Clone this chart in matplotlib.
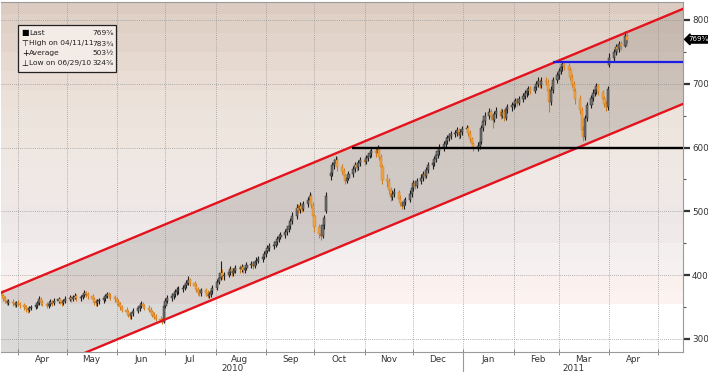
import numpy as np
import pandas as pd
import matplotlib
matplotlib.use("Agg")
import matplotlib.pyplot as plt
import matplotlib.dates as mdates
from matplotlib.patches import Rectangle
from matplotlib.transforms import blended_transform_factory

FONT = ["Liberation Sans Narrow", "DejaVu Sans"]
plt.rcParams["font.family"] = FONT

### daily bars, one row per week (Mon..Fri), 2010-03-22 .. 2011-04-12
closes = [
    368, 364, 360, 357, 358,  356, 354, 357, 355, 353,  350, 347, 345, 348, 350,
    353, 356, 362, 358, 355,  352, 355, 358, 356, 360,  362, 358, 356, 360, 363,
    365, 362, 366, 368, 364,  366, 369, 372, 370, 367,  362, 358, 356, 359, 361,
    364, 367, 370, 368, 366,  362, 358, 355, 350, 346,  342, 338, 336, 340, 344,
    348, 352, 355, 352, 349,  346, 342, 338, 335, 332,  329, 326, 352, 360, 364,
    368, 371, 374, 376, 378,  380, 384, 388, 392, 387,  383, 378, 374, 372, 376,
    372, 368, 370, 375, 380,  390, 396, 404, 398, 401,  405, 409, 403, 407, 411,
    409, 413, 408, 412, 416,  418, 415, 420, 423, 426,  429, 433, 438, 442, 446,
    448, 452, 456, 460, 463,  467, 472, 477, 485, 493,  506, 502, 509, 504, 512,
    518, 524, 510, 492, 476,  465, 462, 478, 490, 524,  560, 572, 576, 581, 570,
    564, 555, 548, 553, 559,  566, 572, 569, 576, 580,  578, 583, 587, 591, 595,
    592, 598, 586, 570, 549,  548, 534, 522, 528, 531,  520, 513, 508, 515, 518,
    528, 537, 544, 540, 548,  553, 559, 556, 565, 572,  576, 582, 589, 594, 600,
    606, 611, 615, 618, 621,  623, 627, 619, 625, 629,  631, 623, 613, 605, 600,
    603, 609, 630, 641, 650,  656, 649, 644, 652, 658,  650, 656, 647, 660, 663,
    666, 669, 673, 670, 676,  681, 685, 688, 692, 689,  695, 700, 704, 698, 705,
    703, 688, 672, 691, 706,  713, 720, 726, 731, 728,  722, 711, 700, 689, 676,
    659, 627, 616, 646, 667,  678, 686, 690, 696, 687,  676, 669, 663, 692, 740,
    750, 757, 754, 762, 760,  775, 769,
]
highs = [
    376, 371, 368, 363, 362,  362, 359, 360, 361, 358,  356, 354, 350, 351, 354,
    357, 359, 367, 366, 361,  358, 359, 362, 361, 364,  366, 365, 361, 363, 367,
    369, 368, 369, 372, 371,  369, 372, 376, 375, 373,  370, 366, 362, 362, 365,
    367, 371, 374, 374, 372,  369, 366, 362, 358, 354,  350, 346, 342, 343, 348,
    351, 356, 359, 358, 355,  353, 350, 346, 342, 339,  336, 333, 357, 364, 369,
    372, 375, 378, 381, 383,  384, 388, 393, 398, 396,  391, 387, 382, 378, 380,
    380, 376, 374, 379, 384,  394, 400, 422, 409, 405,  410, 414, 412, 411, 416,
    416, 417, 416, 416, 420,  423, 422, 424, 428, 430,  433, 438, 443, 447, 451,
    453, 457, 461, 465, 468,  472, 477, 482, 490, 499,  512, 511, 514, 513, 517,
    523, 530, 528, 514, 496,  481, 470, 483, 495, 530,  567, 578, 582, 587, 585,
    574, 568, 559, 558, 564,  571, 577, 577, 581, 585,  585, 588, 592, 596, 600,
    601, 604, 602, 590, 574,  558, 552, 539, 533, 537,  534, 525, 517, 519, 523,
    533, 542, 549, 548, 553,  558, 564, 563, 570, 577,  581, 587, 594, 599, 605,
    611, 616, 620, 623, 626,  628, 632, 630, 629, 634,  636, 634, 627, 617, 609,
    608, 614, 636, 647, 656,  662, 660, 653, 657, 663,  662, 661, 660, 664, 668,
    671, 674, 678, 677, 681,  686, 690, 693, 697, 696,  700, 705, 710, 708, 710,
    711, 707, 694, 696, 711,  718, 725, 731, 736, 736,  732, 727, 715, 705, 693,
    682, 663, 634, 651, 672,  683, 692, 695, 702, 700,  691, 681, 673, 696, 748,
    755, 762, 762, 767, 767,  783, 779,
]
lows = [
    364, 360, 356, 353, 353,  352, 350, 350, 351, 349,  346, 343, 340, 342, 345,
    347, 349, 353, 354, 351,  348, 349, 351, 352, 353,  357, 355, 352, 353, 357,
    359, 358, 359, 362, 360,  360, 363, 366, 366, 363,  358, 353, 351, 352, 355,
    357, 360, 364, 364, 361,  358, 354, 351, 346, 342,  338, 334, 331, 332, 336,
    340, 344, 348, 348, 345,  342, 338, 334, 331, 328,  326, 324, 325, 348, 356,
    360, 363, 366, 369, 371,  373, 376, 380, 384, 383,  379, 374, 369, 367, 368,
    368, 364, 364, 366, 371,  377, 386, 392, 394, 393,  397, 401, 399, 399, 403,
    404, 405, 403, 404, 408,  411, 410, 411, 416, 419,  421, 425, 429, 434, 438,
    441, 444, 448, 452, 456,  459, 463, 468, 473, 481,  488, 497, 498, 499, 500,
    507, 513, 505, 487, 468,  459, 455, 458, 472, 497,  549, 556, 566, 571, 564,
    559, 549, 543, 544, 549,  554, 561, 563, 565, 571,  572, 574, 579, 583, 586,
    586, 588, 581, 564, 543,  538, 528, 516, 518, 523,  515, 508, 503, 504, 510,
    514, 523, 532, 535, 536,  543, 548, 550, 552, 560,  567, 571, 577, 584, 589,
    595, 601, 606, 610, 613,  616, 618, 614, 615, 620,  624, 618, 608, 600, 595,
    595, 598, 605, 626, 636,  645, 644, 630, 640, 647,  645, 646, 642, 643, 654,
    658, 661, 664, 665, 666,  672, 676, 680, 683, 684,  685, 690, 695, 693, 694,
    698, 682, 656, 666, 686,  702, 708, 715, 720, 722,  717, 706, 695, 684, 668,
    653, 620, 610, 612, 641,  662, 673, 681, 684, 682,  670, 663, 658, 659, 726,
    736, 745, 748, 750, 753,  757, 764,
]
first_open = 372
gap_opens = {"2010-10-08": 500, "2010-10-11": 555, "2011-04-01": 730}

# trend channel and levels drawn on the chart
channel_dates = ["2010-03-21", "2011-05-17"]
upper_prices = [372, 818]
lower_prices = [223, 669]
support_start, support_level = "2010-10-24", 600
resist_start, resist_level = "2011-02-25", 734

legend_marks = ["\u25A0", "\u22A4", "+", "\u22A5"]
legend_labels = ["Last", "High on 04/11/11", "Average", "Low on 06/29/10"]
legend_values = ["769\u215D", "783\u00BE", "503\u00BD", "324\u215D"]
last_label = "769\u215D"
last_price = 769.6

dates = pd.bdate_range("2010-03-22", "2011-04-12")
assert len(dates) == len(closes) == len(highs) == len(lows)
opens = [first_open] + closes[:-1]
for d, v in gap_opens.items():
    opens[dates.get_loc(pd.Timestamp(d))] = v

### figure
W, H = 708, 372
fig = plt.figure(figsize=(W / 100, H / 100), dpi=100)
fig.patch.set_facecolor("white")
ax = fig.add_axes([1 / W, 20 / H, 682 / W, 350 / H])

xmin = mdates.date2num(pd.Timestamp("2010-03-21 12:00"))
xmax = mdates.date2num(pd.Timestamp("2011-05-16 12:00"))
ymin, ymax = 279.6, 828.2

# background price bands
band_edges = [ymax, 810, 780, 750, 720, 690, 660, 630, 600, 570, 540, 510, 480,
              450, 425, 400, 375, 355, ymin]
band_colors = ["#dbcbc1", "#e0d1c7", "#e2d4cb", "#e6d9d0", "#e9ddd5", "#ebe1d9",
               "#ece3dc", "#eee5de", "#efe7e1", "#f0e8e4", "#efe8e6", "#eee7e8",
               "#efe9ea", "#f3efef", "#f6f1f0", "#faf1ee", "#fcf3f1", "#ffffff"]
for top, bot, col in zip(band_edges[:-1], band_edges[1:], band_colors):
    ax.axhspan(bot, top, color=col, lw=0, zorder=0)

# channel
cx = mdates.date2num(pd.to_datetime(channel_dates))
ax.fill_between(cx, lower_prices, upper_prices, color="#807870", alpha=0.27,
                lw=0, zorder=1)

# candles
x = mdates.date2num(dates)
o = np.array(opens, float)
c = np.array(closes, float)
up = c >= o
wick_col = np.where(up, "#1e1e1e", "#cf7f22")
body_col = np.where(up, "#707070", "#f0a040")
ax.vlines(x, lows, highs, colors=wick_col, lw=0.8, zorder=3)
ax.bar(x, np.maximum(np.abs(c - o), 2.0), bottom=np.minimum(o, c), width=1.35,
       color=body_col, edgecolor=wick_col, lw=0.3, zorder=4)

ax.plot(cx, upper_prices, color="#e3121c", lw=1.7, zorder=5)
ax.plot(cx, lower_prices, color="#e3121c", lw=1.7, zorder=5)
ax.hlines(support_level, mdates.date2num(pd.Timestamp(support_start)), xmax,
          color="black", lw=1.7, zorder=5)
ax.hlines(resist_level, mdates.date2num(pd.Timestamp(resist_start)), xmax,
          color="#1c1ce6", lw=1.6, zorder=5)

ax.set_xlim(xmin, xmax)
ax.set_ylim(ymin, ymax)

### axes styling
ax.set_axisbelow(True)
ax.xaxis.set_major_locator(mdates.MonthLocator())
ax.xaxis.set_major_formatter(plt.NullFormatter())
mid_months = mdates.date2num(pd.date_range("2010-04-01", "2011-04-01", freq="MS")
                             + pd.Timedelta(days=15))
ax.xaxis.set_minor_locator(matplotlib.ticker.FixedLocator(mid_months))
ax.xaxis.set_minor_formatter(mdates.DateFormatter("%b"))
ax.tick_params(axis="x", which="major", direction="inout", length=4, width=0.6,
               color="#777")
ax.tick_params(axis="x", which="minor", length=0, pad=2, labelsize=6.3,
               labelcolor="#333")

ax.yaxis.tick_right()
ax.set_yticks(np.arange(300, 801, 100))
ax.set_yticks(np.arange(350, 800, 100), minor=True)
ax.tick_params(axis="y", which="major", direction="out", length=5, width=1.6,
               color="#333", labelsize=6.3, labelcolor="#333", pad=1.5)
ax.tick_params(axis="y", which="minor", direction="out", length=2.5, width=0.8,
               color="#555")
ax.grid(True, which="major", color="#9a9a9a", lw=0.6, ls=(0, (1, 1.5)))

for side in ["top", "right", "bottom"]:
    ax.spines[side].set_color("#9a9a9a")
    ax.spines[side].set_linewidth(0.8)
ax.spines["left"].set_visible(False)

# year labels and separator
tr = blended_transform_factory(ax.transData, ax.transAxes)
jan1 = mdates.date2num(pd.Timestamp("2011-01-01"))
ax.plot([jan1, jan1], [0, -0.06], color="#999", lw=0.8, transform=tr,
        clip_on=False)
ax.text((xmin + jan1) / 2, -0.048, "2010", transform=tr, ha="center",
        va="center", fontsize=6.3, color="#333")
ax.text((jan1 + xmax) / 2, -0.048, "2011", transform=tr, ha="center",
        va="center", fontsize=6.3, color="#333")

# last price tag
tr2 = blended_transform_factory(ax.transAxes, ax.transData)
ax.text(1.008, last_price, last_label, transform=tr2, ha="left", va="center",
        fontsize=5, color="white", clip_on=False,
        bbox=dict(boxstyle="larrow,pad=0.1", fc="black", ec="black"))

# legend box
def fx(px):
    return px / W

def fy(py):
    return 1 - py / H

fig.patches.append(Rectangle((fx(18), fy(72)), fx(116) - fx(18), fy(25) - fy(72),
                             transform=fig.transFigure, fc="#f3ebe5",
                             ec="#222", lw=0.9, zorder=10))
rows_y = [33, 43.5, 53, 63]
for mk, lab, val, ry in zip(legend_marks, legend_labels, legend_values, rows_y):
    fig.text(fx(25), fy(ry), mk, ha="center", va="center", fontsize=5.8,
             color="black", family=FONT, zorder=11)
    fig.text(fx(29), fy(ry), lab, ha="left", va="center", fontsize=5.4,
             color="#222", zorder=11)
    fig.text(fx(114), fy(ry), val, ha="right", va="center", fontsize=5.4,
             color="#222", family=FONT, zorder=11)

fig.savefig("out.png", dpi=100)
